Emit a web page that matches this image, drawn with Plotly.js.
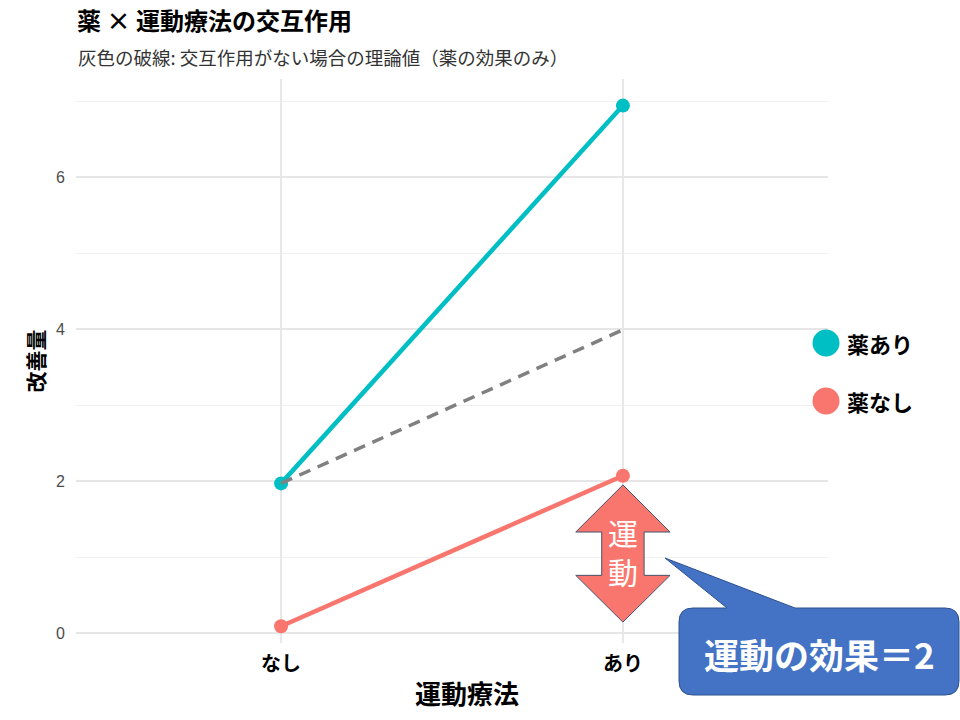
<!DOCTYPE html>
<html>
<head>
<meta charset="utf-8">
<script src="https://cdn.plot.ly/plotly-3.0.1.min.js"></script>
<style>
  html, body { margin: 0; padding: 0; background: #fff; }
  #chart { width: 960px; height: 720px; }
</style>
</head>
<body>
<div id="chart"></div>
<script>
// data
const exercise = ['なし', 'あり'];
const drugNames = ['薬あり', '薬なし'];
const drugColors = ['#00BFC4', '#F8766D'];
const withDrug = [1.97, 6.94];
const withoutDrug = [0.09, 2.07];
const noInteraction = [1.97, 3.99]; // 薬の効果のみ（交互作用なし）
const effectLabel = '運動の効果＝2';

const W = 960, H = 720;
const M = { l: 76, r: 132, t: 79, b: 77 };
const pw = W - M.l - M.r;
const ph = H - M.t - M.b;
const JP = '"Noto Sans CJK JP", "Noto Sans", sans-serif';

// pixel -> paper helpers for the decorations outside the data area
const px = (x) => (x - M.l) / pw;
const py = (y) => (H - M.b - y) / ph;
const toPath = (cmds, fx, fy) => cmds.map(([c, ...v]) => {
  const pts = [];
  for (let i = 0; i < v.length; i += 2) pts.push(fx(v[i]) + ',' + fy(v[i + 1]));
  return c + pts.join(' ');
}).join(' ') + ' Z';

const series = [withDrug, withoutDrug];
const traces = series.map((y, i) => ({
  x: exercise,
  y,
  name: drugNames[i],
  type: 'scatter',
  mode: 'lines+markers',
  line: { color: drugColors[i], width: 4.5 },
  marker: { color: drugColors[i], size: 14 },
  showlegend: false,
  hoverinfo: 'x+y+name',
}));
traces.push({
  x: exercise,
  y: noInteraction,
  type: 'scatter',
  mode: 'lines',
  line: { color: '#808080', width: 3.5, dash: '12px,8px' },
  showlegend: false,
  hoverinfo: 'skip',
});

// double arrow under the 薬なし / あり point, in data units
const ax = 1, head = 0.138, shaft = 0.062;
const arrowCmds = [
  ['M', ax, 1.95],
  ['L', ax + head, 1.33], ['L', ax + shaft, 1.33], ['L', ax + shaft, 0.76],
  ['L', ax + head, 0.76], ['L', ax, 0.145], ['L', ax - head, 0.76],
  ['L', ax - shaft, 0.76], ['L', ax - shaft, 1.33], ['L', ax - head, 1.33],
];

// callout box with its tail, in pixels
const calloutCmds = [
  ['M', 693, 608], ['L', 727, 608], ['L', 665, 558], ['L', 795, 608],
  ['L', 945, 608], ['Q', 959, 608, 959, 622], ['L', 959, 681],
  ['Q', 959, 695, 945, 695], ['L', 693, 695], ['Q', 679, 695, 679, 681],
  ['L', 679, 622], ['Q', 679, 608, 693, 608],
];

const shapes = [
  {
    type: 'path', xref: 'x', yref: 'y',
    path: toPath(arrowCmds, (v) => v, (v) => v),
    fillcolor: '#F8766D', line: { color: '#44546A', width: 1 },
  },
  {
    type: 'path', xref: 'paper', yref: 'paper',
    path: toPath(calloutCmds, px, py),
    fillcolor: '#4472C4', line: { color: '#2F528F', width: 1 },
  },
];

const annotations = [
  {
    xref: 'paper', yref: 'paper', x: px(76), y: py(57),
    xanchor: 'left', yanchor: 'middle', showarrow: false,
    text: '灰色の破線: 交互作用がない場合の理論値（薬の効果のみ）',
    font: { family: JP, size: 18.5, color: '#333' },
  },
  {
    xref: 'x', yref: 'y', x: exercise[1], y: 1.08,
    xanchor: 'center', yanchor: 'middle',
    showarrow: false, text: '運<br>動',
    font: { family: JP, size: 30, color: '#fff' },
  },
  {
    xref: 'paper', yref: 'paper', x: px(819), y: py(653),
    xanchor: 'center', yanchor: 'middle',
    showarrow: false, text: effectLabel,
    font: { family: JP, size: 35, color: '#fff', weight: 'bold' },
  },
  {
    // x axis title, sitting where the reference puts it
    xref: 'paper', yref: 'paper', x: px(467), y: py(692),
    xanchor: 'center', yanchor: 'middle', showarrow: false,
    text: '運動療法',
    font: { family: JP, size: 26, color: '#000', weight: 'bold' },
  },
];

// legend drawn by hand so the keys can be big dots
drugNames.forEach((name, i) => {
  const cy = 343 + i * 58;
  shapes.push({
    type: 'circle', xref: 'paper', yref: 'paper',
    xsizemode: 'pixel', ysizemode: 'pixel',
    xanchor: px(826), yanchor: py(cy),
    x0: -13.5, x1: 13.5, y0: -13.5, y1: 13.5,
    fillcolor: drugColors[i], line: { width: 0 },
  });
  annotations.push({
    xref: 'paper', yref: 'paper', x: px(845), y: py(cy),
    xanchor: 'left', yanchor: 'middle', showarrow: false,
    text: name,
    font: { family: JP, size: 22, color: '#000', weight: 'bold' },
  });
});

const layout = {
  width: W,
  height: H,
  margin: M,
  paper_bgcolor: '#fff',
  plot_bgcolor: '#fff',
  font: { family: JP, color: '#000' },
  title: {
    text: '薬 × 運動療法の交互作用',
    xref: 'container', yref: 'container',
    x: 77 / W, xanchor: 'left',
    y: 1 - 22 / H, yanchor: 'middle',
    font: { family: JP, size: 24, color: '#000', weight: 'bold' },
  },
  xaxis: {
    type: 'category',
    range: [-0.6, 1.6],
    showgrid: true,
    gridcolor: '#e8e8e8',
    gridwidth: 1.5,
    zeroline: false,
    showline: false,
    ticks: '',
    ticklabelstandoff: 7,
    tickfont: { family: JP, size: 20, color: '#000', weight: 'bold' },
    fixedrange: true,
  },
  yaxis: {
    range: [-0.13, 7.29],
    tick0: 0,
    dtick: 2,
    showgrid: true,
    gridcolor: '#e6e6e6',
    gridwidth: 1.5,
    minor: { dtick: 1, showgrid: true, gridcolor: '#f0f0f0', gridwidth: 1 },
    zeroline: false,
    showline: false,
    ticks: '',
    ticklabelstandoff: 10,
    tickfont: { family: '"Liberation Sans", Arial, sans-serif', size: 16, color: '#4d4d4d' },
    title: {
      text: '改善量',
      font: { family: JP, size: 21, color: '#000', weight: 'bold' },
      standoff: 5,
    },
    fixedrange: true,
  },
  shapes,
  annotations,
  hovermode: 'closest',
};

Plotly.newPlot('chart', traces, layout, { displayModeBar: false, responsive: false });
</script>
</body>
</html>
